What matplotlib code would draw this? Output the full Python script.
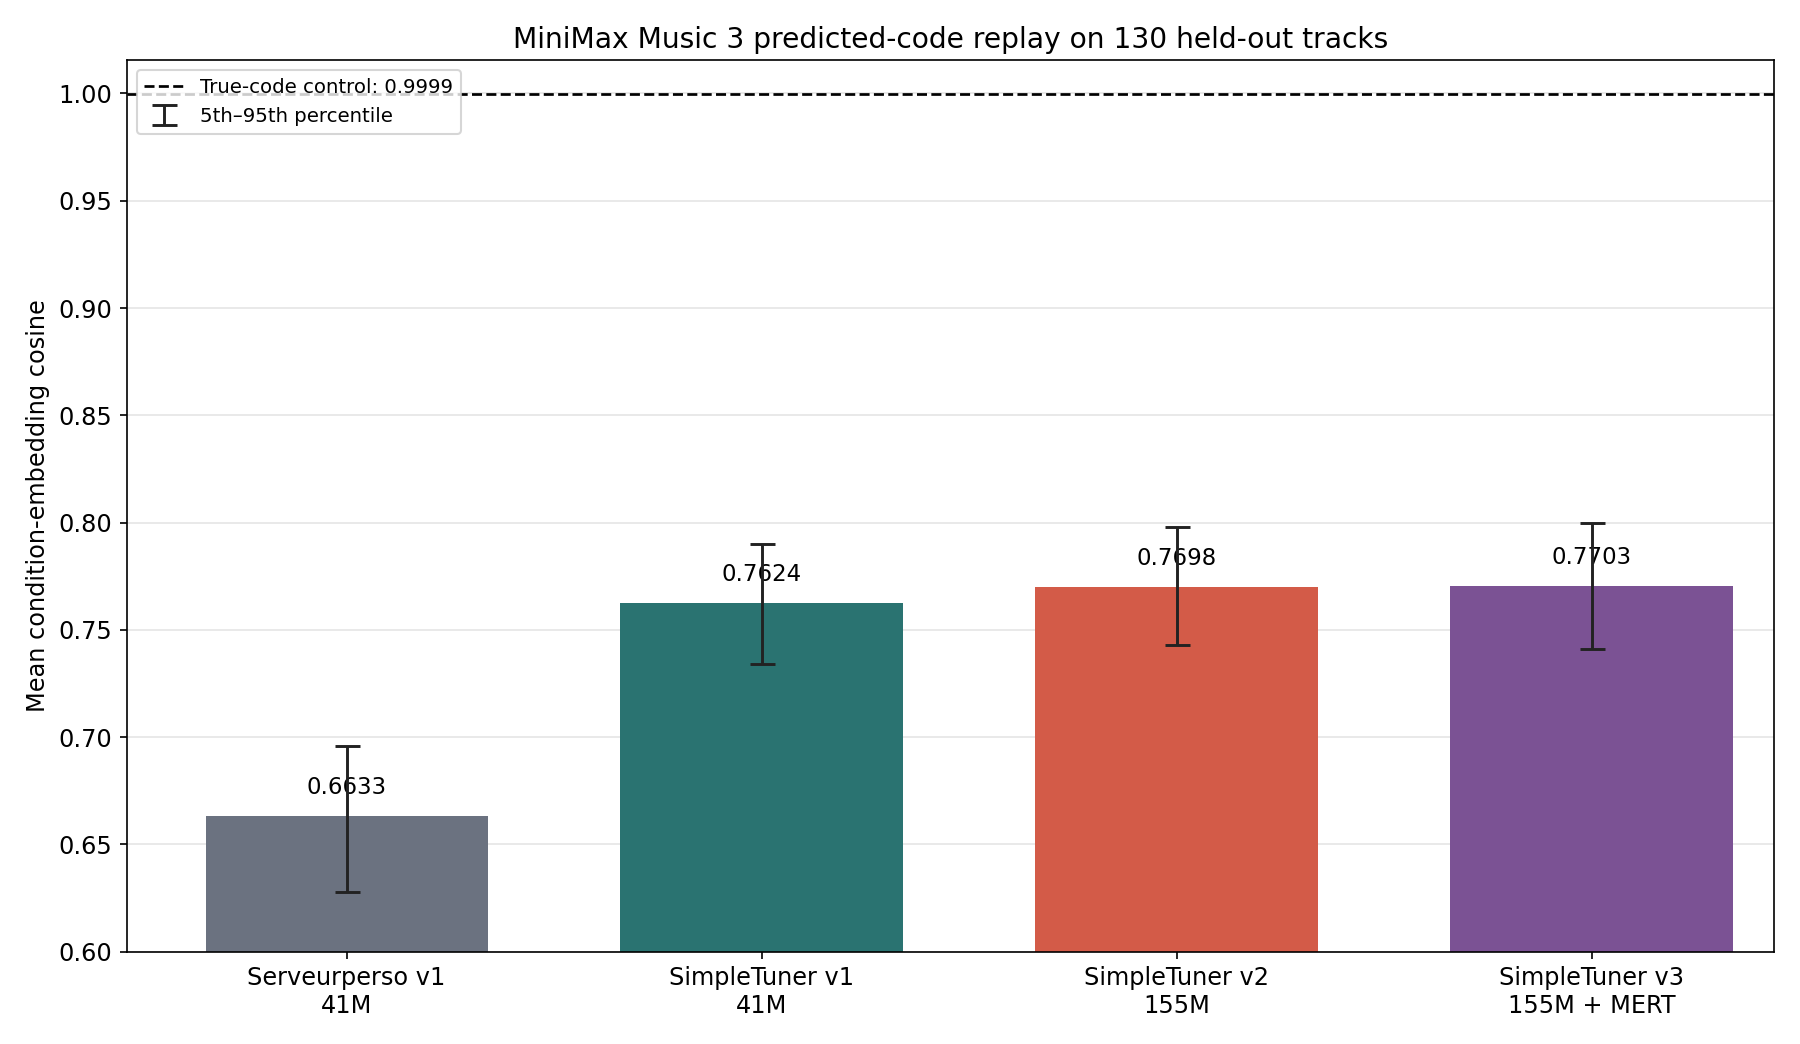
import matplotlib
matplotlib.use("Agg")
import matplotlib.pyplot as plt
from matplotlib.lines import Line2D

labels = ["Serveurperso v1\n41M", "SimpleTuner v1\n41M", "SimpleTuner v2\n155M", "SimpleTuner v3\n155M + MERT"]
means = [0.6633, 0.7624, 0.7698, 0.7703]
p5 = [0.628, 0.734, 0.743, 0.741]
p95 = [0.696, 0.790, 0.798, 0.800]
colors = ["#6b7280", "#2a7371", "#d35b48", "#7b5294"]
control = 0.9999

plt.rcParams["font.size"] = 11.5
fig, ax = plt.subplots(figsize=(12, 6.96), dpi=150)
x = list(range(len(labels)))
ax.bar(x, means, width=0.68, color=colors, zorder=2)
lo = [m - a for m, a in zip(means, p5)]
hi = [b - m for m, b in zip(means, p95)]
eb = ax.errorbar(x, means, yerr=[lo, hi], fmt="none", ecolor="#222222", capsize=6, elinewidth=1.4, capthick=1.4, zorder=3,
                 label="5th\u201395th percentile")
for xi, m in zip(x, means):
    ax.text(xi, m + 0.008, f"{m:.4f}", ha="center", va="bottom", fontsize=11, zorder=1)
ln = ax.axhline(control, color="black", linestyle="--", linewidth=1.3, zorder=2, label=f"True-code control: {control:.4f}")
ax.set_ylim(0.6, 1.0154)
ax.set_yticks([0.60, 0.65, 0.70, 0.75, 0.80, 0.85, 0.90, 0.95, 1.00])
ax.set_xticks(x)
ax.set_xticklabels(labels)
ax.set_xlim(-0.53, 3.44)
ax.grid(axis="y", color="#e5e5e5", linewidth=0.8, zorder=0)
ax.set_axisbelow(True)
ax.set_ylabel("Mean condition-embedding cosine")
ax.set_title("MiniMax Music 3 predicted-code replay on 130 held-out tracks", fontsize=13.5)
ax.legend([ln, eb], [ln.get_label(), "5th\u201395th percentile"], loc="upper left", fontsize=9.5)
fig.tight_layout()
fig.savefig("out.png", dpi=150)
